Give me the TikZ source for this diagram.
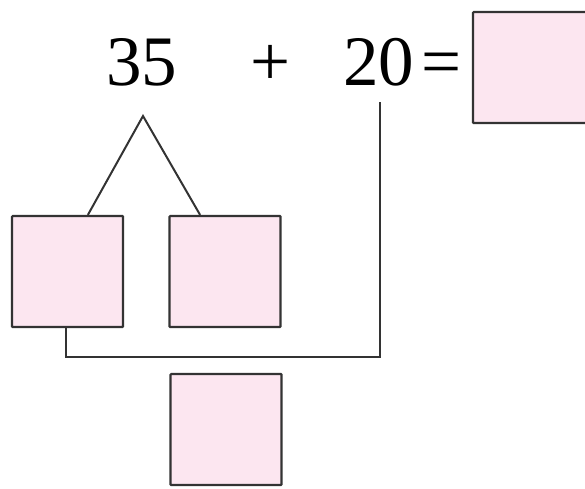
\documentclass[tikz,border=0pt]{standalone}
\usepackage{fontspec}
\setmainfont{Liberation Serif}
\usetikzlibrary{calc}
\definecolor{boxpink}{HTML}{FCE6F0}
\definecolor{linegray}{HTML}{333333}
\tikzset{
  ansbox/.style={draw=linegray, fill=boxpink, line width=2.2pt, minimum width=111pt, minimum height=111pt, inner sep=0pt, rounded corners=0.8pt},
  conn/.style={draw=linegray, line width=2pt},
  numtxt/.style={inner sep=0pt, font=\fontsize{71}{71}\selectfont}
}
\begin{document}
\begin{tikzpicture}[x=1pt,y=-1pt]
\useasboundingbox (0,0) rectangle (585,488);
\clip (0,0) rectangle (585,488);
\node[numtxt, anchor=base] (n35) at (141.5,85) {35};
\node[numtxt, anchor=base] (plus) at (270.5,85) {+};
\node[numtxt, anchor=base] (n20) at (378.5,85) {20};
\node[numtxt, anchor=base west] (eq) at (421,85) {=};
\node[ansbox, minimum width=122pt] (res) at (534,67.5) {};
\node[ansbox] (box1) at (67.5,271.5) {};
\node[ansbox] (box2) at (225,271.5) {};
\node[ansbox] (box3) at (226,429.5) {};
\coordinate (apex) at (143,116);
\coordinate (top20) at (380,102);
\draw[conn] ($(box1.north west)!0.68!(box1.north east)$) -- (apex) -- ($(box2.north west)!0.28!(box2.north east)$);
\draw[conn] ($(box1.south west)!0.49!(box1.south east)$) |- (380,357) -- (top20);
\end{tikzpicture}
\end{document}
